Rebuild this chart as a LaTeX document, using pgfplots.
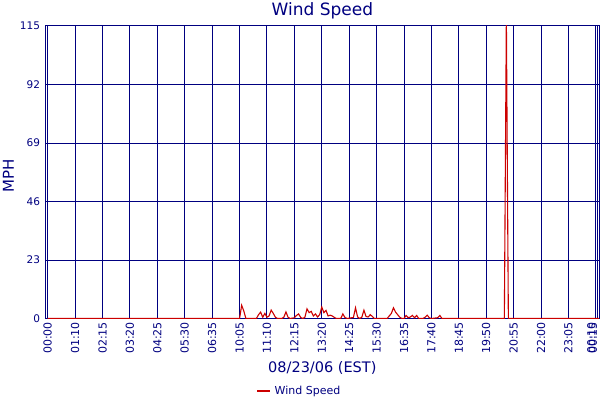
\documentclass[border=0pt]{standalone}
\usepackage{fontspec}
\setmainfont{DejaVu Sans}
\usepackage{pgfplots}
\pgfplotsset{compat=1.18}
\definecolor{navyc}{RGB}{0,0,128}
\definecolor{redc}{RGB}{204,0,0}
\begin{document}
\begin{tikzpicture}[x=1bp,y=1bp]
\path[use as bounding box] (0,0) rectangle (600,400);
\begin{axis}[
  at={(45.7bp,81.5bp)}, anchor=south west, scale only axis,
  width=553.3bp, height=292.5bp,
  xmin=-0.95, xmax=261.5, ymin=0, ymax=115,
  axis line style={navyc, line width=1bp},
  grid=major, major grid style={navyc, line width=1bp},
  major tick length=0pt,
  /pgf/number format/assume math mode=true,
  ytick={0,23,46,69,92,115},
  xtick={0,13,26,39,52,65,78,91,104,117,130,143,156,169,182,195,208,221,234,247},
  xticklabels={00:00,01:10,02:15,03:20,04:25,05:30,06:35,10:05,11:10,12:15,13:20,14:25,15:30,16:35,17:40,18:45,19:50,20:55,22:00,23:05},
  extra x ticks={260,260.76},
  extra x tick labels={00:10,00:15},
  extra x tick style={grid=major, major grid style={navyc, line width=1bp}, tick label style={xshift=-4.5bp}},
  x tick label style={rotate=90, anchor=east, font=\fontsize{11bp}{12bp}\selectfont, text=navyc, inner sep=0pt, xshift=-3.5bp},
  y tick label style={anchor=east, font=\fontsize{10.5bp}{12bp}\selectfont, text=navyc, inner sep=0pt, xshift=-5.5bp},
  title={Wind Speed},
  title style={at={(axis description cs:0.5,1.0342)}, anchor=base, yshift=-6pt, font=\fontsize{17bp}{20bp}\selectfont, text=navyc, inner sep=0pt},
  xlabel={08/23/06 (EST)},
  xlabel style={at={(axis description cs:0.5,-0.183)}, anchor=base, font=\fontsize{14.5bp}{16bp}\selectfont, text=navyc, inner sep=0pt},
  ylabel={MPH},
  ylabel style={at={(axis description cs:-0.0573,0.487)}, anchor=base, font=\fontsize{15bp}{17bp}\selectfont, text=navyc, inner sep=0pt},
  legend style={at={(axis description cs:0.380,-0.2479)}, anchor=west, draw=none, fill=none, inner sep=0pt, column sep=3.5bp, font=\fontsize{11bp}{13bp}\selectfont, text=navyc, nodes={inner sep=0pt}},
  legend image code/.code={\draw[#1, line width=2bp] (0bp,0bp) -- (13bp,0bp);},
]
\addplot[redc, line width=1.1bp, mark=none] coordinates {
(0,0) (91,0) (92,5.2) (93,3) (94,0) (99,0) (100,1.5) (101,2.5) (102,0.5) (103,2) (104,0.5)
(105,1) (106,3.3) (107,2) (108,0.5) (109,0) (111,0) (112,0.5) (113,2.6) (114,0.5) (115,0)
(117,0.3) (118,1.2) (119,1.8) (120,0.4) (121,0) (122,0.5) (123,3.8) (124,2.3) (125,2.8)
(126,1) (127,1.8) (128,0.6) (129,1.5) (130,4.5) (131,2.3) (132,3.2) (133,1) (134,1.3)
(135,1) (136,0.4) (137,0) (139,0) (140,1.8) (141,0.4) (142,0) (145,0.4) (146,4.2) (147,0.6)
(148,0) (149,0.5) (150,3.3) (151,0.8) (152,0.6) (153,1.5) (154,0.8) (155,0) (161,0)
(162,1) (163,2) (164,4.2) (165,2.5) (166,1.5) (167,0.5) (168,0) (169,0) (170,1.2) (171,0.3)
(172,0.6) (173,1.2) (174,0.3) (175,1.2) (176,0) (178,0) (179,0.5) (180,1.3) (181,0.3)
(182,0) (185,0.3) (186,1.2) (187,0) (216,0) (216.6,0) (217.55,118) (218.5,0) (261.5,0)
};
\addlegendentry{Wind Speed}
\end{axis}
\end{tikzpicture}
\end{document}
